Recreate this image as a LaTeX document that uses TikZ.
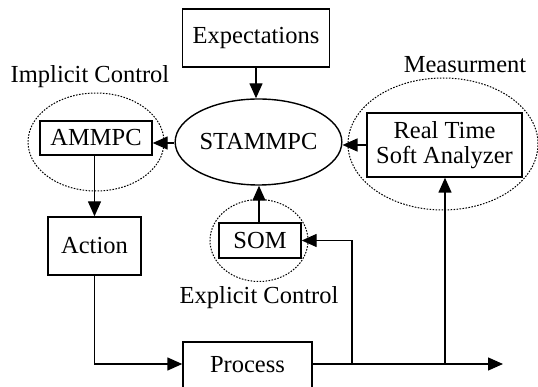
\documentclass[tikz,border=0pt]{standalone}
\usepackage{fontspec}
\setmainfont{Liberation Serif}
\usetikzlibrary{arrows.meta,shapes.geometric}
\begin{document}
\begin{tikzpicture}[x=1pt,y=-1pt,
  every node/.style={font=\fontsize{24.5}{27}\selectfont},
  box/.style={draw,line width=1.4pt,rectangle,inner sep=0pt,align=center},
  group/.style={draw,ellipse,line width=1pt,dash pattern=on 1.6pt off 1.4pt,inner sep=0pt},
  conn/.style={line width=1.4pt,-{Triangle[length=15pt,width=13pt]}},
  lbl/.style={inner sep=0pt}]
\useasboundingbox (0,0) rectangle (538,387);
% groups
\node[group,minimum width=136,minimum height=98] (gimp) at (96,142) {};
\node[group,minimum width=190,minimum height=132] (gmeas) at (443,144) {};
\node[group,minimum width=98,minimum height=82] (gexp) at (259,240.5) {};
% boxes
\node[box,minimum width=147,minimum height=58] (exp) at (256,38) {Expectations};
\node[draw,ellipse,line width=1.4pt,inner sep=0pt,minimum width=131,minimum height=86] (stam) at (258.5,142) {STAMMPC};
\node[box,minimum width=112,minimum height=34] (ammpc) at (96,138) {AMMPC};
\node[box,minimum width=155,minimum height=64,font=\fontsize{24.5}{25.5}\selectfont] (rtsa) at (444.5,145) {Real Time\\Soft Analyzer};
\node[box,minimum width=93,minimum height=58] (action) at (94.5,246) {Action};
\node[box,minimum width=82,minimum height=35] (som) at (260,240.5) {SOM};
\node[box,minimum width=129,minimum height=46] (proc) at (247.5,365) {Process};
% labels
\node[lbl] (limp) at (90,77) {Implicit Control};
\node[lbl] (lmeas) at (465,65) {Measurment};
\node[lbl] (lexp) at (259,298) {Explicit Control};
% coordinates
\coordinate (out) at (503,364);
\coordinate (b1) at (352,364);
\coordinate (b2) at (445,364);
\coordinate (a1) at (94.5,364);
% connectors
\draw[conn] (exp.south) -- (exp.south |- stam.north);
\draw[conn] (stam.west |- 0,143) -- (ammpc.east |- 0,143);
\draw[conn] (rtsa.west) -- (rtsa.west -| stam.east);
\draw[conn] (ammpc.south -| action.north) -- (action.north);
\draw[conn] (som.north -| 259,0) -- (stam.south -| 259,0);
\draw[conn] (action.south) -- (a1) -- (proc.west |- a1);
\draw[conn] (proc.east |- out) -- (out);
\draw[conn] (b1) -- (b1 |- som.east) -- (som.east);
\draw[conn] (b2) -- (b2 |- rtsa.south);
\end{tikzpicture}
\end{document}
